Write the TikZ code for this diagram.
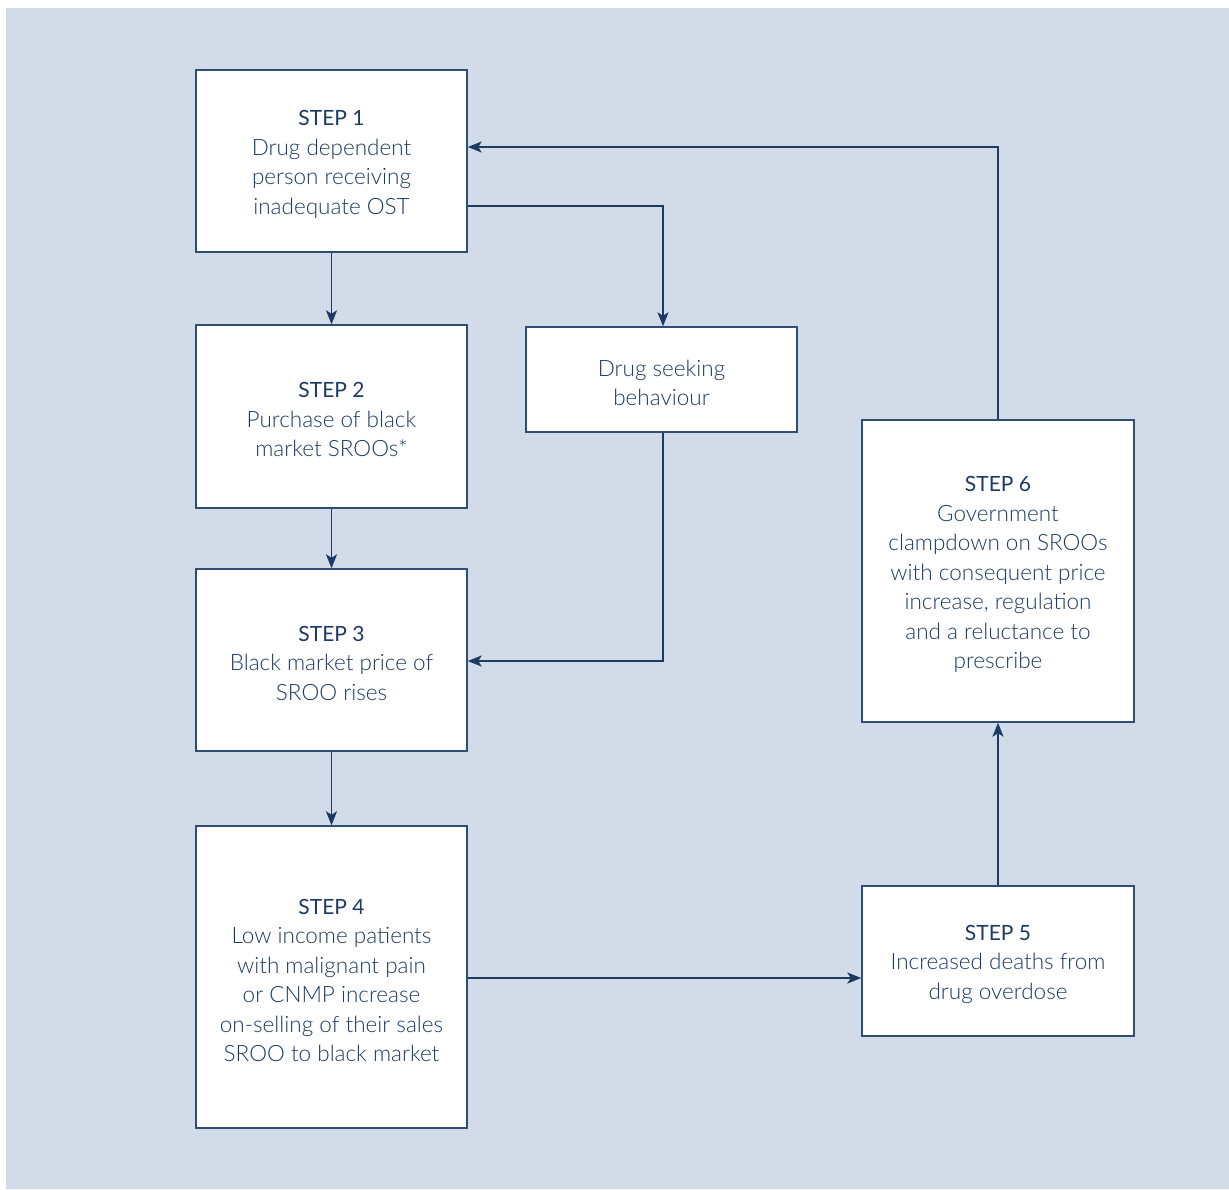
\documentclass[tikz,border=0pt]{standalone}
\usepackage{fontspec}
\IfFontExistsTF{Lato Light}{\setmainfont{Lato Light}[BoldFont={Lato}]}{\setmainfont{Lato}}
\usetikzlibrary{arrows.meta}
\definecolor{bgc}{HTML}{D2DCE8}
\definecolor{navy}{HTML}{1C3A63}
\definecolor{boxline}{HTML}{2E4E78}
\newcommand{\hd}[1]{{\fontsize{21}{29.5}\selectfont\rule{0pt}{22pt}\textbf{#1}}}
\newcommand{\tp}{\rule{0pt}{23.5pt}}
\begin{document}
\begin{tikzpicture}[x=1pt,y=-1pt,
  stepbox/.style={draw=boxline,line width=1.4pt,fill=white,text=navy,align=center,inner sep=0pt,font=\fontsize{22.5}{29.5}\selectfont},
  conn/.style={draw=navy,line width=1.9pt,-{Stealth[length=14pt,width=11pt,inset=3.5pt]}}]
\useasboundingbox (0,0) rectangle (1229,1189);
\fill[bgc] (6,8) rectangle (1229,1189);
\node[stepbox,minimum width=271pt,minimum height=182pt] (s1) at (331.5,161) {\hd{STEP 1}\\Drug dependent\\person receiving\\inadequate OST};
\node[stepbox,minimum width=271pt,minimum height=183pt] (s2) at (331.5,416.5) {\hd{STEP 2}\\Purchase of black\\market SROOs*};
\node[stepbox,minimum width=271pt,minimum height=182pt] (s3) at (331.5,660) {\hd{STEP 3}\\Black market price of\\SROO rises};
\node[stepbox,minimum width=271pt,minimum height=302pt] (s4) at (331.5,977) {\hd{STEP 4}\\Low income patients\\with malignant pain\\or CNMP increase\\on-selling of their sales\\SROO to black market};
\node[stepbox,minimum width=271pt,minimum height=105pt] (ds) at (661.5,379.5) {\tp Drug seeking\\behaviour};
\node[stepbox,minimum width=272pt,minimum height=302pt] (s6) at (998,571) {\hd{STEP 6}\\Government\\clampdown on SROOs\\with consequent price\\increase, regulation\\and a reluctance to\\prescribe};
\node[stepbox,minimum width=272pt,minimum height=150pt] (s5) at (998,961) {\hd{STEP 5}\\Increased deaths from\\drug overdose};
\coordinate (c1) at (663,206);
\coordinate (c2) at (663,661);
\coordinate (c3) at (998,147);
\coordinate (c4) at (700,978);
\draw[conn] (s1.south) -- (s2.north);
\draw[conn] (s2.south) -- (s3.north);
\draw[conn] (s3.south) -- (s4.north);
\draw[conn] (s1.east |- c1) -- (c1) -- (c1 |- ds.north);
\draw[conn] (c1 |- ds.south) -- (c2) -- (c2 -| s3.east);
\draw[conn] (s4.east |- c4) -- (c4 -| s5.west);
\draw[conn] (s5.north) -- (s6.south);
\draw[conn] (s6.north) -- (c3) -- (c3 -| s1.east);
\end{tikzpicture}
\end{document}
